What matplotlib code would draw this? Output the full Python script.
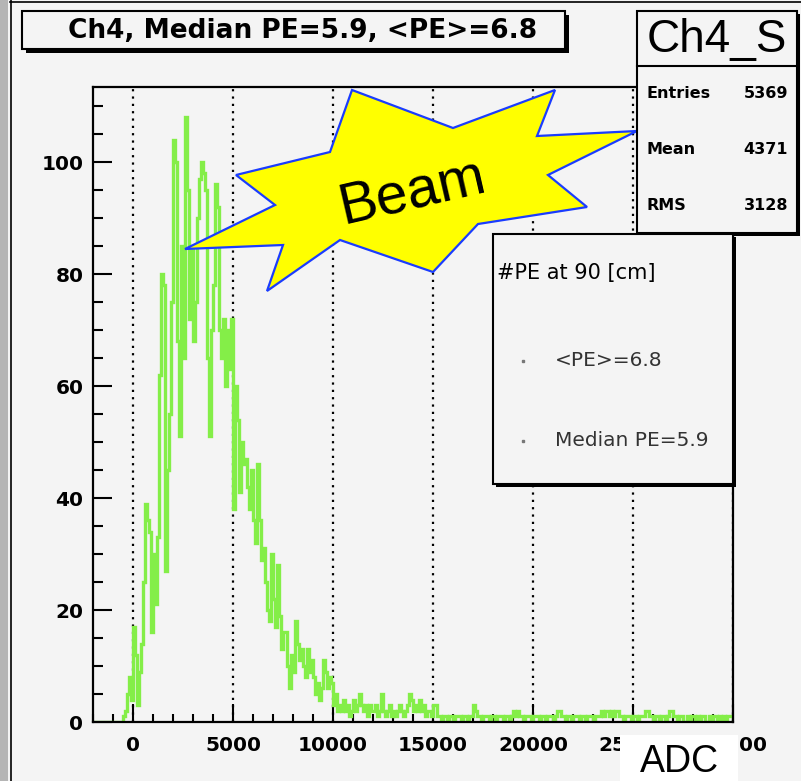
import numpy as np
import matplotlib
matplotlib.use("Agg")
import matplotlib.pyplot as plt
from matplotlib.patches import Rectangle, Polygon

# ---------------- data ----------------
bin_low = -2000
bin_width = 100
counts = [
    0, 0, 0, 0, 0, 0, 0, 0, 0, 0, 0, 0, 0, 0,          # i0-13
    0, 1, 2, 5, 8, 4,                                    # i14-19
    17, 12, 3, 9, 14,                                    # i20-24
    25, 39, 36, 34, 16,                                  # i25-29
    30, 21, 33, 62, 80, 78,                              # i30-35
    27, 45, 55, 75, 104, 100, 68, 51,                    # i36-43
    85, 65, 108, 95,                                     # i44-47
    72, 85, 68, 75, 90, 97,                              # i48-53
    100, 98, 95, 65, 51, 70, 78,                         # i54-60
    96, 92, 70, 65, 72, 60, 70, 63, 72,                  # i61-69
    38, 60, 54, 41, 50, 46, 47,                          # i70-76
    42, 38, 45, 36, 32, 46, 36, 29,                      # i77-84
    31, 25, 20, 18, 30, 22, 17,                          # i85-91
    28, 19, 13, 16, 16, 10, 6, 12,                       # i92-99
    9, 18, 14, 11, 13, 10, 8, 13, 9, 11,                 # i100-109
    8, 5, 7, 4, 6, 11, 9, 6, 8,                          # i110-118
    7, 3, 5, 2,                                          # i119-122
    3, 2, 4, 2, 3, 1, 2, 4, 2, 3,                        # i123-132
    5, 3,                                                # i133-134
    2, 3, 1, 3, 2, 2, 3, 1, 2,                           # i135-143
    5, 2,                                                # i144-145
    1, 2, 3, 1, 2, 1, 2, 3, 2, 1, 2, 3,                  # i146-157
    5, 4,                                                # i158-159
    2, 3, 2, 4, 2, 3, 1, 2, 2, 1,                        # i160-169
    3, 3, 1,                                             # i170-172
    1, 0, 1, 1, 0, 1, 1, 0, 1, 1, 1, 0, 1, 1, 0, 1, 1,   # i173-189
    3, 2,                                                # i190-191
    1, 1, 0, 1, 1, 1, 0, 1, 1, 0, 1, 1, 1, 0, 1, 1, 0, 1,  # i192-209
    2, 1, 2, 1,                                          # i210-213
    1, 0, 1, 1, 1, 0, 1, 1, 1, 0, 1, 1, 0, 1, 1, 1, 0, 1,  # i214-231
    2, 2, 1,                                             # i232-234
    1, 0, 1, 1, 0, 1, 1, 1, 0, 1, 1, 0, 1, 1, 1, 0, 1, 1, 1,  # i235-253
    2, 1, 2, 2, 1, 2, 1, 2, 2, 1,                        # i254-263
    1, 0, 1, 1, 1, 0, 1, 1, 0, 1, 1, 1,                  # i264-275
    2, 2, 1,                                             # i276-278
    1, 0, 1, 1, 0, 1, 1, 0, 1,                           # i279-287
    2, 2, 1,                                             # i288-290
    1, 0, 1, 1, 0, 0, 1, 0, 1, 1, 0, 1, 0, 1, 1, 0, 0, 1, 0, 1, 1, 0, 1, 0, 1, 0, 1, 1, 1,  # i291-319
]
edges = bin_low + bin_width * np.arange(len(counts) + 1)

x_ticks = [0, 5000, 10000, 15000, 20000, 25000, 30000]
y_ticks = [0, 20, 40, 60, 80, 100]
title_text = "Ch4, Median PE=5.9, <PE>=6.8"
stats_name = "Ch4_S"
stats_rows = [("Entries", "5369"), ("Mean", "4371"), ("RMS", "3128")]
legend_header = "#PE at 90 [cm]"
legend_entries = ["<PE>=6.8", "Median PE=5.9"]

# ---------------- figure ----------------
W, H = 801, 781
BG = "#f4f4f4"
fig = plt.figure(figsize=(W / 100, H / 100), dpi=100, facecolor=BG)

L, R, T, B = 93, 733, 87, 722
ax = fig.add_axes([L / W, (H - B) / H, (R - L) / W, (B - T) / H])
ax.set_facecolor(BG)
ax.stairs(counts, edges, color="#84ee48", lw=2.4, zorder=2)
ax.set_xlim(-2000, 30000)
ax.set_ylim(0, 113.4)
ax.set_xticks(x_ticks)
ax.set_xticks(np.arange(-2000, 30001, 1000), minor=True)
ax.set_yticks(y_ticks)
ax.set_yticks(np.arange(0, 113, 5), minor=True)
tick_font = dict(family="DejaVu Sans", weight="bold", size=14.5)
ax.set_xticklabels([str(v) for v in x_ticks], fontdict=tick_font)
ax.set_yticklabels([str(v) for v in y_ticks], fontdict=tick_font)
ax.tick_params(axis="x", which="major", direction="in", length=13, width=1.5, pad=10)
ax.tick_params(axis="x", which="minor", direction="in", length=6, width=1.5)
ax.tick_params(axis="y", which="major", direction="in", length=14, width=1.5, pad=7)
ax.tick_params(axis="y", which="minor", direction="in", length=7, width=1.5)
ax.tick_params(top=False, right=False, which="both")
for s in ax.spines.values():
    s.set_linewidth(1.6)
    s.set_zorder(4)
ax.xaxis.grid(True, which="major", color="black", linestyle=(0, (1, 2.3)), lw=1.6, zorder=1)
ax.set_axisbelow(True)

# ---------------- overlay (pixel coordinates) ----------------
ov = fig.add_axes([0, 0, 1, 1])
ov.set_xlim(0, W)
ov.set_ylim(H, 0)
ov.axis("off")
ov.patch.set_alpha(0)
ov.set_zorder(5)

# frame decorations
ov.add_patch(Rectangle((0, 0), 8, H, color="#b5b5b5", lw=0))
ov.plot([10.5, 10.5], [0, H], color="black", lw=1.2)
ov.plot([10, W], [1.5, 1.5], color="black", lw=1.2)

def shadow_box(x0, y0, x1, y1, off=4):
    ov.add_patch(Rectangle((x0 + off, y0 + off), x1 - x0, y1 - y0, facecolor="black", lw=0))
    ov.add_patch(Rectangle((x0, y0), x1 - x0, y1 - y0, facecolor=BG, edgecolor="black", lw=1.5))

# title box
shadow_box(22, 11, 565, 49)
ov.text(303, 31, title_text, ha="center", va="center", family="DejaVu Sans",
        weight="bold", size=19)

# star
star = [(185, 249), (275, 205), (236, 175), (330, 152), (352, 90), (453, 128),
        (555, 90), (537, 136), (637, 131), (548, 175), (587, 207), (478, 224),
        (433, 272), (340, 240), (267, 291), (283, 245)]
ov.add_patch(Polygon(star, closed=True, facecolor="#ffff00", edgecolor="#1a3cff", lw=1.6))
ov.text(412, 192, "Beam", ha="center", va="center", family="Liberation Sans",
        size=41, rotation=13)

# stats box
shadow_box(637, 11, 797, 233, off=3)
ov.plot([637, 797], [66, 66], color="black", lw=1.5)
ov.text(717, 40, stats_name, ha="center", va="center", family="Liberation Sans", size=33)
for k, (nm, val) in enumerate(stats_rows):
    yy = 94 + 56 * k
    ov.text(646, yy, nm, ha="left", va="center", family="DejaVu Sans", weight="bold", size=11.5)
    ov.text(788, yy, val, ha="right", va="center", family="DejaVu Sans", weight="bold", size=11.5)

# legend box
shadow_box(493, 234, 733, 484, off=3)
ov.text(497, 273, legend_header, ha="left", va="center", family="DejaVu Sans", size=15)
for k, lab in enumerate(legend_entries):
    yy = 361 + 80 * k
    ov.plot([523], [yy], marker="s", ms=1.5, color="#777777", lw=0)
    ov.text(555, yy, lab, ha="left", va="center", family="DejaVu Sans", size=14.5, color="#333333")

# axis title box
ov.add_patch(Rectangle((620, 735), 118, 46, facecolor="white", lw=0))
ov.text(679, 762, "ADC", ha="center", va="center", family="Liberation Sans", size=27)

fig.savefig("out.png", dpi=100, facecolor=BG)
